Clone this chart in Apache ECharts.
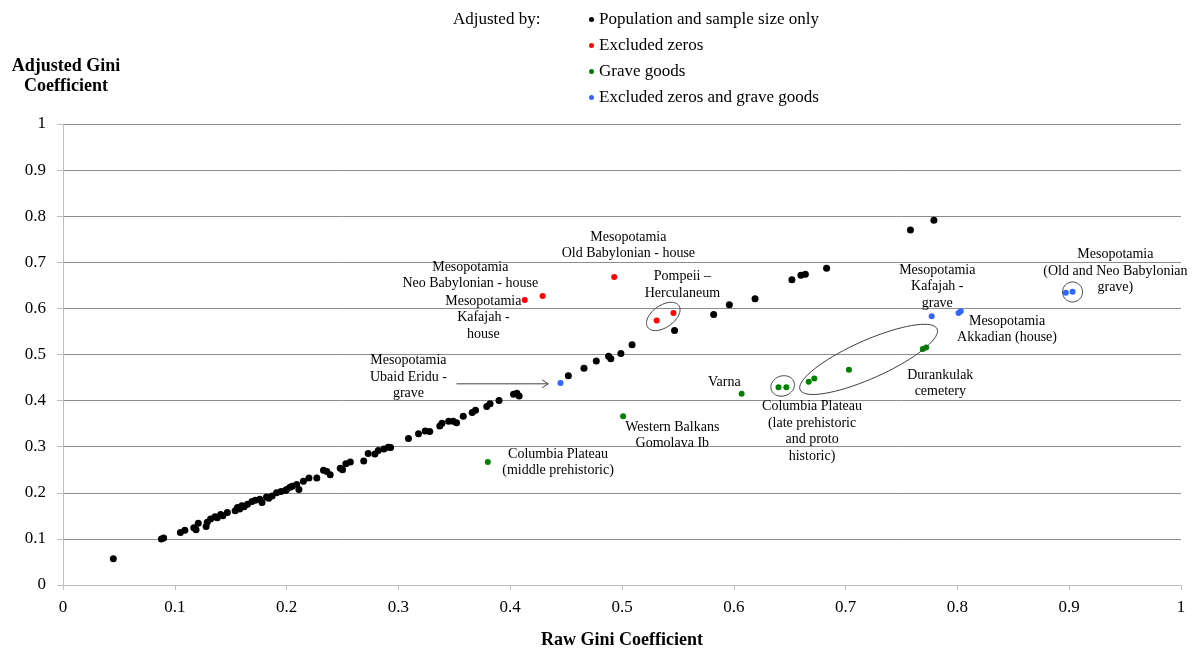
<!DOCTYPE html>
<html>
<head>
<meta charset="utf-8">
<script src="https://cdn.jsdelivr.net/npm/echarts@6/dist/echarts.min.js"></script>
<style>
html,body{margin:0;padding:0;background:#fff;}
#chart{width:1196px;height:654px;}
</style>
</head>
<body>
<div id="chart"></div>
<script>
// ---- Data (raw Gini, adjusted Gini) ----
var seriesNames = ['Population and sample size only', 'Excluded zeros', 'Grave goods', 'Excluded zeros and grave goods'];

var popSampleOnly = [
  [0.045,0.057],[0.088,0.100],[0.090,0.102],
  [0.105,0.114],[0.109,0.119],[0.117,0.124],[0.119,0.120],[0.121,0.134],[0.128,0.127],[0.129,0.136],
  [0.132,0.143],[0.136,0.148],[0.138,0.146],[0.141,0.153],[0.143,0.150],[0.147,0.157],[0.154,0.161],
  [0.156,0.168],[0.158,0.165],[0.160,0.172],[0.162,0.170],[0.165,0.175],[0.169,0.181],[0.172,0.184],
  [0.176,0.186],[0.178,0.179],[0.182,0.191],[0.184,0.188],[0.187,0.193],[0.191,0.200],[0.195,0.203],
  [0.199,0.205],[0.200,0.207],[0.203,0.212],[0.205,0.214],[0.209,0.218],[0.211,0.207],[0.215,0.225],
  [0.220,0.232],[0.227,0.232],[0.233,0.249],[0.236,0.246],[0.239,0.239],[0.248,0.253],[0.250,0.250],
  [0.253,0.263],[0.257,0.267],[0.269,0.269],[0.273,0.285],[0.279,0.284],[0.282,0.292],[0.287,0.295],
  [0.291,0.299],[0.293,0.298],[0.309,0.318],[0.318,0.328],[0.324,0.334],[0.328,0.333],[0.337,0.345],
  [0.339,0.351],[0.345,0.355],[0.349,0.355],[0.352,0.352],[0.358,0.366],[0.366,0.374],[0.369,0.379],
  [0.379,0.387],[0.382,0.393],[0.390,0.400],[0.403,0.414],[0.406,0.416],[0.408,0.410],
  [0.452,0.454],[0.466,0.470],[0.477,0.486],[0.488,0.496],[0.490,0.491],[0.499,0.502],[0.509,0.521],
  [0.547,0.552],[0.582,0.587],[0.596,0.608],[0.619,0.621],[0.652,0.662],[0.660,0.672],[0.664,0.674],
  [0.683,0.687],[0.758,0.770],[0.779,0.791]
];
var excludedZeros = [[0.413,0.618],[0.429,0.627],[0.493,0.668],[0.531,0.574],[0.546,0.590]];
var graveGoods = [[0.380,0.267],[0.501,0.366],[0.607,0.415],[0.640,0.429],[0.647,0.429],[0.667,0.441],
  [0.672,0.448],[0.703,0.467],[0.769,0.512],[0.772,0.515]];
var zerosAndGrave = [[0.445,0.438],[0.777,0.583],[0.801,0.590],[0.803,0.594],[0.897,0.634],[0.903,0.636]];

var xTicks = ['0','0.1','0.2','0.3','0.4','0.5','0.6','0.7','0.8','0.9','1'];
var yTicks = ['0','0.1','0.2','0.3','0.4','0.5','0.6','0.7','0.8','0.9','1'];

// ---- Annotations (anchor in data coords) ----
var labelTexts = [
  'Mesopotamia\nOld Babylonian - house',
  'Mesopotamia\nNeo Babylonian - house',
  'Mesopotamia\nKafajah -\nhouse',
  'Pompeii \u2013\nHerculaneum',
  'Mesopotamia\nUbaid Eridu -\ngrave',
  'Varna',
  'Columbia Plateau\n(late prehistoric\nand proto\nhistoric)',
  'Durankulak\ncemetery',
  'Mesopotamia\nKafajah -\ngrave',
  'Mesopotamia\nAkkadian (house)',
  'Mesopotamia\n(Old and Neo Babylonian\ngrave)',
  'Western Balkans\nGomolava Ib',
  'Columbia Plateau\n(middle prehistoric)'
];
var labelAnchors = [
  [0.5057,0.737],[0.3643,0.672],[0.376,0.580],[0.554,0.651],[0.309,0.4506],[0.5915,0.440],
  [0.670,0.3333],[0.7847,0.437],[0.782,0.6477],[0.8444,0.5544],[0.9413,0.6807],[0.545,0.325],[0.4428,0.2663]
];
var ellipseCenters = [[0.5369,0.5826],[0.7206,0.4894],[0.6437,0.4318],[0.903,0.6356]];
var ellipseRadii = [[19,11,35],[75,19,24],[12,10,20],[10,10,0]];
var arrowFromTo = [[0.352,0.4364,0.434,0.4364]];

var FONT = '"Liberation Serif", "Times New Roman", serif';
var chart = echarts.init(document.getElementById('chart'));

function scatter(name, data, color, size) {
  return {
    name: name, type: 'scatter', data: data, symbol: 'circle', symbolSize: size,
    itemStyle: { color: color, opacity: 1 }, emphasis: { disabled: true }, z: 3
  };
}

var option = {
  animation: false,
  backgroundColor: '#fff',
  grid: { left: 63, right: 15, top: 124, bottom: 58 },
  legend: {
    orient: 'vertical', left: 589, top: 11, padding: 0,
    icon: 'circle', itemWidth: 5, itemHeight: 5, itemGap: 9,
    textStyle: { fontFamily: FONT, fontSize: 17, color: '#000', lineHeight: 17 },
    data: seriesNames
  },
  graphic: [{
    type: 'text', left: 453, top: 11,
    style: { text: 'Adjusted by:', font: '17px ' + FONT, fill: '#000' }
  }],
  xAxis: {
    type: 'value', min: 0, max: 1, interval: 0.1,
    name: 'Raw Gini Coefficient', nameLocation: 'middle', nameGap: 46,
    nameTextStyle: { fontFamily: FONT, fontSize: 18, fontWeight: 'bold', color: '#000' },
    axisLine: { show: true, lineStyle: { color: '#bfbfbf', width: 1 } },
    axisTick: { show: true, length: 5, lineStyle: { color: '#bfbfbf' } },
    axisLabel: { margin: 14, fontFamily: FONT, fontSize: 17, color: '#000',
      formatter: function (v) { return xTicks[Math.round(v * 10)]; } },
    splitLine: { show: false }
  },
  yAxis: {
    type: 'value', min: 0, max: 1, interval: 0.1,
    name: 'Adjusted Gini\nCoefficient', nameLocation: 'end', nameGap: 28,
    nameTextStyle: { fontFamily: FONT, fontSize: 18, fontWeight: 'bold', color: '#000',
      lineHeight: 20, align: 'center', padding: [0, 0, 0, 6] },
    axisLine: { show: true, lineStyle: { color: '#bfbfbf', width: 1 } },
    axisTick: { show: true, length: 6, lineStyle: { color: '#bfbfbf' } },
    axisLabel: { margin: 17, fontFamily: FONT, fontSize: 17, color: '#000',
      formatter: function (v) { return yTicks[Math.round(v * 10)]; } },
    splitLine: { show: true, lineStyle: { color: '#8c8c8c', width: 1 } }
  },
  series: [
    scatter(seriesNames[0], popSampleOnly, '#000000', 7),
    scatter(seriesNames[1], excludedZeros, '#ff0000', 6),
    scatter(seriesNames[2], graveGoods, '#008000', 6),
    scatter(seriesNames[3], zerosAndGrave, '#3366ff', 6),
    {
      type: 'custom', name: 'ellipses', data: ellipseCenters, z: 4, silent: true,
      renderItem: function (params, api) {
        var c = api.coord([api.value(0), api.value(1)]);
        var r = ellipseRadii[params.dataIndex];
        var th = r[2] * Math.PI / 180, pts = [];
        for (var i = 0; i < 72; i++) {
          var t = i / 72 * Math.PI * 2;
          var ex = r[0] * Math.cos(t), ey = r[1] * Math.sin(t);
          pts.push([c[0] + ex * Math.cos(th) - ey * Math.sin(th), c[1] - (ex * Math.sin(th) + ey * Math.cos(th))]);
        }
        return { type: 'polygon', shape: { points: pts }, style: { fill: 'none', stroke: '#404040', lineWidth: 1 } };
      }
    },
    {
      type: 'custom', name: 'labels', data: labelAnchors, z: 5, silent: true,
      renderItem: function (params, api) {
        var c = api.coord([api.value(0), api.value(1)]);
        return { type: 'text', x: c[0], y: c[1], style: {
          text: labelTexts[params.dataIndex], fontFamily: FONT, fontSize: 14, lineHeight: 16.5,
          fill: '#000', align: 'center', verticalAlign: 'middle' } };
      }
    },
    {
      type: 'custom', name: 'arrow', data: arrowFromTo, z: 5, silent: true,
      renderItem: function (params, api) {
        var a = api.coord([api.value(0), api.value(1)]);
        var b = api.coord([api.value(2), api.value(3)]);
        return { type: 'group', children: [
          { type: 'line', shape: { x1: a[0], y1: a[1], x2: b[0], y2: b[1] }, style: { stroke: '#404040', lineWidth: 1 } },
          { type: 'polyline', shape: { points: [[b[0] - 6, b[1] - 4], [b[0], b[1]], [b[0] - 6, b[1] + 4]] }, style: { stroke: '#404040', lineWidth: 1, fill: 'none' } }
        ] };
      }
    }
  ]
};
chart.setOption(option);
</script>
</body>
</html>
